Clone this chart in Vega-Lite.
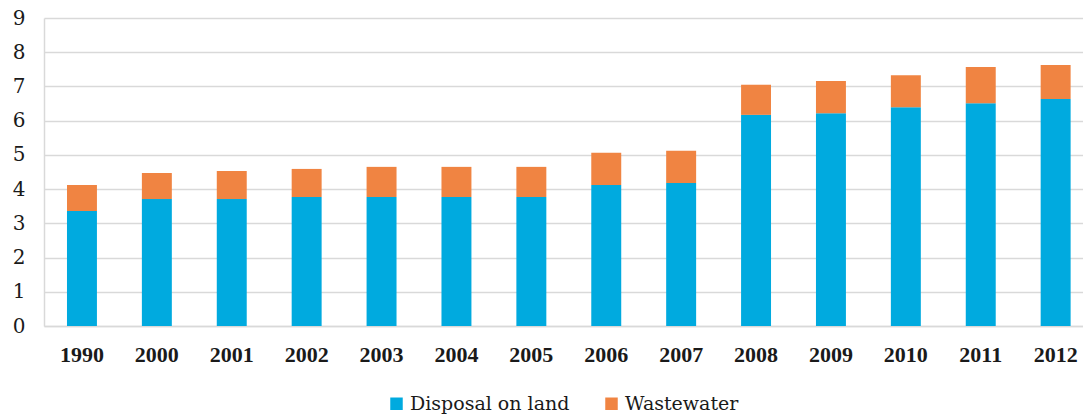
{
  "$schema": "https://vega.github.io/schema/vega-lite/v6.json",
  "width": 1039,
  "height": 308,
  "autosize": {"type": "none"},
  "padding": {"left": 44, "top": 18, "right": 0, "bottom": 93},
  "background": "white",
  "data": {
    "values": [
      {"year": "1990", "source": "Disposal on land", "value": 3.36},
      {"year": "1990", "source": "Wastewater", "value": 0.76},
      {"year": "2000", "source": "Disposal on land", "value": 3.71},
      {"year": "2000", "source": "Wastewater", "value": 0.76},
      {"year": "2001", "source": "Disposal on land", "value": 3.71},
      {"year": "2001", "source": "Wastewater", "value": 0.82},
      {"year": "2002", "source": "Disposal on land", "value": 3.77},
      {"year": "2002", "source": "Wastewater", "value": 0.82},
      {"year": "2003", "source": "Disposal on land", "value": 3.77},
      {"year": "2003", "source": "Wastewater", "value": 0.88},
      {"year": "2004", "source": "Disposal on land", "value": 3.77},
      {"year": "2004", "source": "Wastewater", "value": 0.88},
      {"year": "2005", "source": "Disposal on land", "value": 3.77},
      {"year": "2005", "source": "Wastewater", "value": 0.88},
      {"year": "2006", "source": "Disposal on land", "value": 4.12},
      {"year": "2006", "source": "Wastewater", "value": 0.94},
      {"year": "2007", "source": "Disposal on land", "value": 4.18},
      {"year": "2007", "source": "Wastewater", "value": 0.94},
      {"year": "2008", "source": "Disposal on land", "value": 6.17},
      {"year": "2008", "source": "Wastewater", "value": 0.88},
      {"year": "2009", "source": "Disposal on land", "value": 6.22},
      {"year": "2009", "source": "Wastewater", "value": 0.94},
      {"year": "2010", "source": "Disposal on land", "value": 6.39},
      {"year": "2010", "source": "Wastewater", "value": 0.94},
      {"year": "2011", "source": "Disposal on land", "value": 6.51},
      {"year": "2011", "source": "Wastewater", "value": 1.06},
      {"year": "2012", "source": "Disposal on land", "value": 6.63},
      {"year": "2012", "source": "Wastewater", "value": 1.0}
    ]
  },
  "mark": {"type": "bar"},
  "encoding": {
    "x": {
      "field": "year",
      "type": "ordinal",
      "sort": null,
      "scale": {"paddingInner": 0.6, "paddingOuter": 0.236, "align": 0.65},
      "axis": {
        "title": null,
        "labelAngle": 0,
        "labelFont": "Liberation Serif",
        "labelFontSize": 22,
        "labelFontWeight": "bold",
        "labelColor": "#1a1a1a",
        "labelPadding": 18,
        "ticks": false,
        "domainColor": "#d9d9d9",
        "domainWidth": 1.5
      }
    },
    "y": {
      "field": "value",
      "type": "quantitative",
      "stack": "zero",
      "scale": {"domain": [0, 9], "nice": false},
      "axis": {
        "title": null,
        "values": [0, 1, 2, 3, 4, 5, 6, 7, 8, 9],
        "labelFont": "DejaVu Serif",
        "labelFontSize": 20,
        "labelColor": "#1a1a1a",
        "labelPadding": 19,
        "ticks": false,
        "grid": true,
        "gridColor": "#d9d9d9",
        "gridWidth": 1.5,
        "domainColor": "#d9d9d9",
        "domainWidth": 1.5
      }
    },
    "color": {
      "field": "source",
      "type": "nominal",
      "scale": {
        "domain": ["Disposal on land", "Wastewater"],
        "range": ["#00AADF", "#F08442"]
      },
      "legend": {
        "title": null,
        "orient": "none",
        "direction": "horizontal",
        "legendX": 343,
        "legendY": 376,
        "padding": 0,
        "symbolType": "square",
        "symbolSize": 156,
        "symbolStrokeWidth": 0,
        "labelFont": "DejaVu Serif",
        "labelFontSize": 19,
        "labelColor": "#1a1a1a",
        "labelOffset": 4,
        "columnPadding": 32
      }
    },
    "order": {"field": "source", "sort": "ascending"}
  },
  "config": {"view": {"stroke": null}}
}
